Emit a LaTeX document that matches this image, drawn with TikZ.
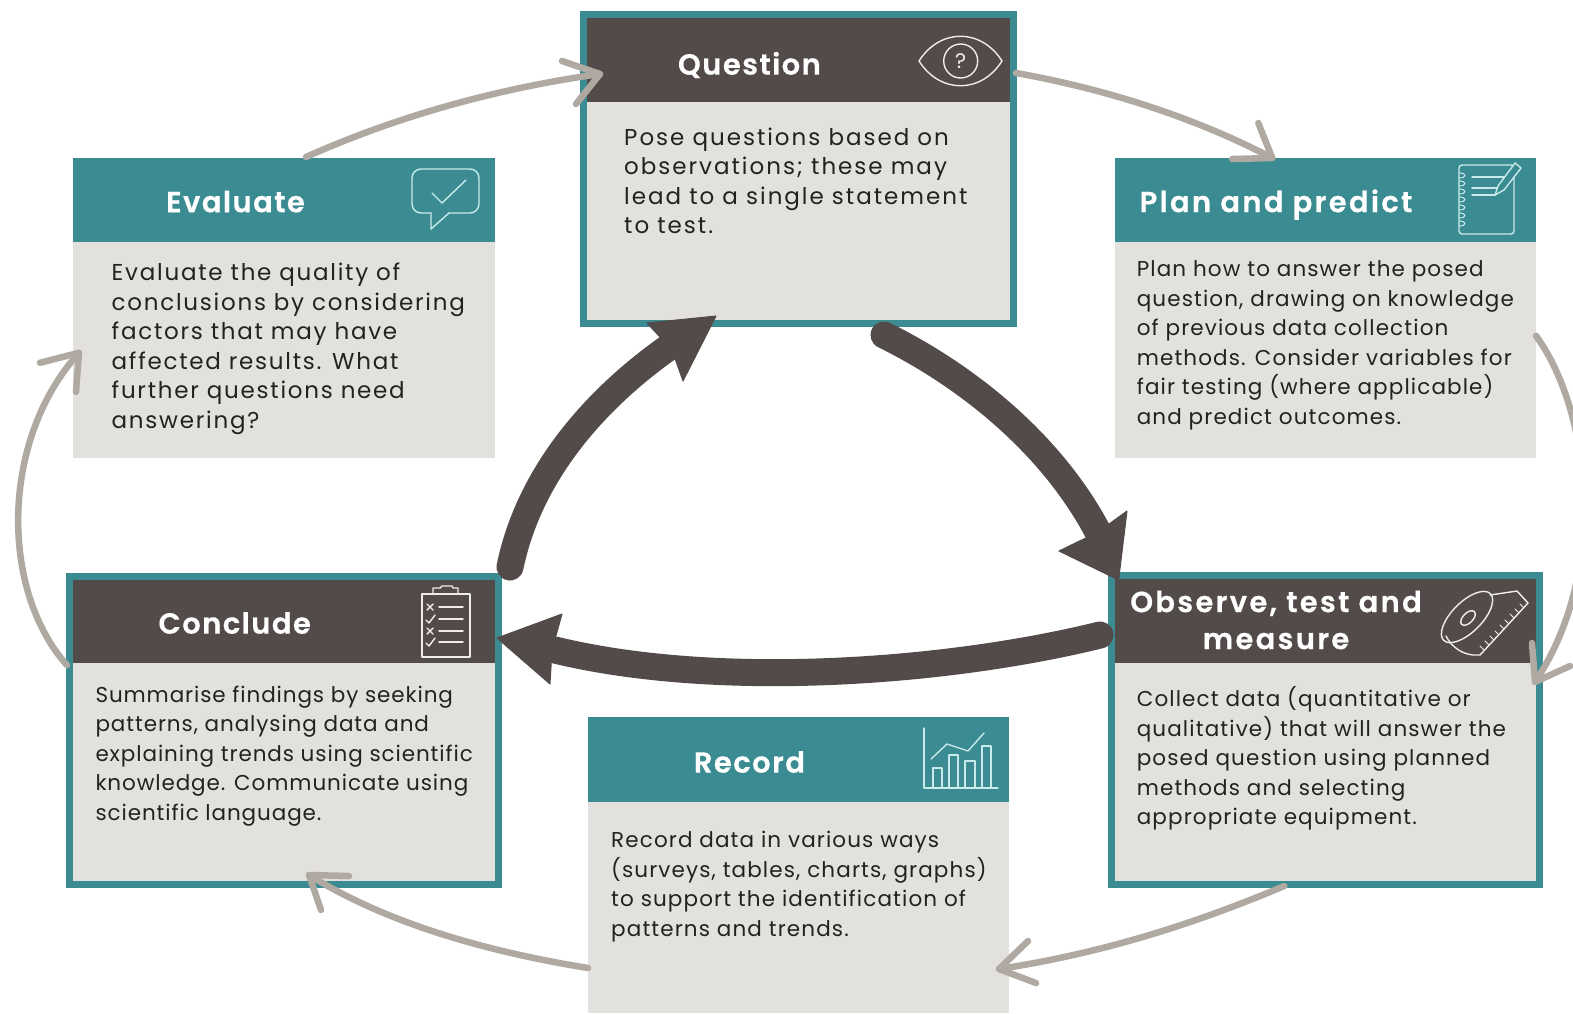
\documentclass[tikz,border=0pt]{standalone}
\usepackage{fontspec}
\setmainfont{Poppins}[LetterSpace=4.2]
\newfontfamily\fwide{Poppins}[LetterSpace=8.6]
\newfontfamily\fevl{Poppins}[LetterSpace=7.6]
\newfontfamily\fmid{Poppins}[LetterSpace=5.2]
\newfontfamily\ftitle{Poppins SemiBold}[LetterSpace=5,FakeBold=0.5]
\newfontfamily\ftitlew{Poppins SemiBold}[LetterSpace=8,FakeBold=0.5]
\usetikzlibrary{fit}
\definecolor{teal1}{HTML}{3A8C92}
\definecolor{dark1}{HTML}{534B49}
\definecolor{pale1}{HTML}{E3E1DD}
\definecolor{arrow1}{HTML}{AFA9A2}
\definecolor{ink1}{HTML}{222222}
\definecolor{icona}{HTML}{EFEDE8}
\definecolor{iconb}{HTML}{C9EAEA}
\tikzset{
 panel/.style={fill=pale1,inner sep=0pt,outer sep=0pt},
 framed/.style={panel,draw=teal1,line width=7pt},
 headteal/.style={fill=teal1,inner sep=0pt,outer sep=0pt},
 headdark/.style={fill=dark1,inner sep=0pt,outer sep=0pt},
 ttl/.style={text=white,font=\fontsize{29}{37}\selectfont\ftitle,align=center,inner sep=0pt},
 ttlw/.style={ttl,font=\fontsize{29}{37}\selectfont\ftitlew},
 bodytxt/.style={text=ink1,font=\fontsize{21.5}{29.5}\selectfont,align=left,anchor=north west,inner sep=0pt},
 bodywide/.style={bodytxt,font=\fontsize{23}{29.5}\selectfont\fwide},
 bodyevl/.style={bodytxt,font=\fontsize{23}{29.5}\selectfont\fevl},
 bodymid/.style={bodytxt,font=\fontsize{21.5}{29.5}\selectfont\fmid},
 thin1/.style={arrow1,line width=6.5pt,line cap=round,line join=round},
 thick1/.style={dark1,line width=27pt,line cap=round},
 headbig/.style={fill=dark1,draw=dark1,line width=1pt,line join=round},
 icd/.style={draw=icona,line width=1.4pt,line cap=round,line join=round},
 ict/.style={draw=iconb,line width=1.4pt,line cap=round,line join=round},
}
\newcommand{\fl}{\rule{0pt}{18pt}}
\begin{document}
\begin{tikzpicture}[x=1pt,y=-1pt]
\useasboundingbox (0,0) rectangle (1573,1013);
\fill[white] (0,0) rectangle (1573,1013);
% panels
\node[framed,fit={(583.5,14.5)(1013.5,323.5)}] (q) {};
\node[headdark,fit={(587,18)(1010,102)}] (qh) {};
\node[panel,fit={(73,157.5)(495,458)}] (ev) {};
\node[headteal,fit={(73,157.5)(495,242)}] (evh) {};
\node[panel,fit={(1114.5,157.5)(1536,458)}] (pl) {};
\node[headteal,fit={(1114.5,157.5)(1536,242)}] (plh) {};
\node[framed,fit={(69.5,576)(498.5,884.5)}] (co) {};
\node[headdark,fit={(73,579.5)(495,663)}] (coh) {};
\node[framed,fit={(1111,575.5)(1539.5,884.5)}] (ob) {};
\node[headdark,fit={(1114.5,579)(1536,663)}] (obh) {};
\node[panel,fit={(588,717)(1009,1013)}] (re) {};
\node[headteal,fit={(588,717)(1009,802)}] (reh) {};
% titles
\node[ttl] (qt) at (749.4,65) {Question};
\node[ttl] (evt) at (235.5,201.6) {Evaluate};
\node[ttlw] (plt) at (1276,204.6) {Plan and predict};
\node[ttl] (cot) at (234.7,623) {Conclude};
\node[ttl] (ret) at (749.4,762) {Record};
\node[ttlw] (obt) at (1276,620) {Observe, test and\\measure};
% body text
\node[bodywide] (qb) at (624,127) {\fl Pose questions based on\\observations; these may\\lead to a single statement\\to test.};
\node[bodyevl] (evb) at (111.5,262.5) {\fl Evaluate the quality of\\conclusions by considering\\factors that may have\\affected results. What\\further questions need\\answering?};
\node[bodymid] (plb) at (1136.6,258.5) {\fl Plan how to answer the posed\\question, drawing on knowledge\\of previous data collection\\methods. Consider variables for\\fair testing (where applicable)\\and predict outcomes.};
\node[bodytxt] (cob) at (95.3,683.8) {\fl Summarise findings by seeking\\patterns, analysing data and\\explaining trends using scientific\\knowledge. Communicate using\\scientific language.};
\node[bodymid] (obb) at (1136.6,686.3) {\fl Collect data (quantitative or\\qualitative) that will answer the\\posed question using planned\\methods and selecting\\appropriate equipment.};
\node[bodymid] (reb) at (611,829.3) {\fl Record data in various ways\\(surveys, tables, charts, graphs)\\to support the identification of\\patterns and trends.};
% icons: eye
\draw[icd] (919,61) .. controls (940,28) and (981,28) .. (1002,61) .. controls (981,94) and (940,94) .. (919,61) -- cycle;
\draw[icd] (960.7,61) circle (17);
\node[text=icona,font=\fontsize{21}{21}\selectfont,inner sep=0pt] (eyeq) at (960.7,61) {?};
% notebook
\draw[ict,rounded corners=3pt] (1459,165) rectangle (1514,234);
\foreach \yy in {173,181,189,197,205,213,221}
  \draw[ict,line width=1pt] (1459,\yy) .. controls (1467,\yy) and (1467,\yy+5) .. (1459,\yy+5);
\draw[ict] (1472,177) -- (1510,177) (1472,188) -- (1502,188) (1472,195) -- (1495,195);
\draw[ict,fill=teal1] (1495,195) -- (1498,186) -- (1515,163) -- (1521,168) -- (1504,190) -- cycle;
% speech bubble
\draw[ict,rounded corners=9pt] (431,213) -- (412,213) -- (412,169) -- (479,169) -- (479,213) -- (449,213);
\draw[ict] (431,213) -- (431,229) -- (449,213);
\draw[ict] (432,193) -- (442,203) -- (466,180);
% clipboard
\draw[icd] (422,594) rectangle (470,657);
\draw[icd] (433,594) -- (433,588) -- (440,588) -- (442,586) -- (452,586) -- (453,588) -- (458,588) -- (458,594);
\foreach \yy in {607,619,631,642} \draw[icd] (439,\yy) -- (463,\yy);
\foreach \yy in {607,631} \draw[icd] (427,\yy-3) -- (433,\yy+3) (433,\yy-3) -- (427,\yy+3);
\foreach \yy in {619,642} \draw[icd] (426,\yy+1) -- (429,\yy+4) -- (435,\yy-4);
% chart
\draw[ict] (924,728) -- (924,788) -- (998,788);
\draw[ict] (933,788) -- (933,768) -- (942,768) -- (942,788);
\draw[ict] (949,788) -- (949,755) -- (958,755) -- (958,788);
\draw[ict] (965,788) -- (965,761) -- (975,761) -- (975,788);
\draw[ict] (982,788) -- (982,746) -- (991,746) -- (991,788);
\draw[ict] (931,759) -- (947,744) -- (968,751) -- (984,733);
% tape
\draw[icd,rotate around={45:(1467,617)}] (1467,617) ellipse (33 and 15);
\draw[icd,rotate around={45:(1468,618)}] (1468,618) ellipse (9 and 5);
\draw[icd] (1490,595) -- (1517,591) -- (1528,603) -- (1480,655) -- (1473,655) .. controls (1463,654) and (1452,648) .. (1446,636);
\foreach \xx/\yy in {1484/650,1489/645,1494/640,1499/635,1504/629,1509/624,1514/618,1519/613,1524/608}
  \draw[icd,line width=1pt] (\xx,\yy) -- +(-4,-4);
% thin arrows
\coordinate (a1) at ([shift={(22,-.5)}]ev.north);
\coordinate (a2) at ([shift={(16.5,59.5)}]q.north west);
\coordinate (b1) at ([shift={(2.5,58.5)}]q.north east);
\coordinate (b2) at ([shift={(-53,.5)}]pl.north);
\coordinate (c1) at ([shift={(0,28)}]pl.east);
\coordinate (c2) at ([shift={(-4.5,-48)}]ob.east);
\coordinate (d1) at ([shift={(-41,1.5)}]ob.south);
\coordinate (d2) at ([shift={(-10,104)}]re.east);
\coordinate (e1) at ([shift={(0,103)}]re.west);
\coordinate (e2) at ([shift={(25,-9.5)}]co.south);
\coordinate (f1) at ([shift={(-2.5,-65)}]co.west);
\coordinate (f2) at ([shift={(6,45)}]ev.west);
\draw[thin1] (a1) .. controls (400,115) and (500,88) .. (a2);
\draw[thin1] (a2) ++(-38,-13) -- (a2) -- ++(-24,30);
\draw[thin1] (b1) .. controls (1100,88) and (1190,115) .. (b2);
\draw[thin1] (b2) ++(-14,-35) -- (b2) -- ++(-40,1);
\draw[thin1] (c1) .. controls (1590,410) and (1610,570) .. (c2);
\draw[thin1] (c2) ++(-3,-39) -- (c2) -- ++(35,-16);
\draw[thin1] (d1) .. controls (1180,930) and (1090,955) .. (d2);
\draw[thin1] (d2) ++(29,-28) -- (d2) -- ++(37,14);
\draw[thin1] (e1) .. controls (490,952) and (390,925) .. (e2);
\draw[thin1] (e2) ++(40,1) -- (e2) -- ++(12,35);
\draw[thin1] (f1) .. controls (0,590) and (0,440) .. (f2);
\draw[thin1] (f2) ++(-39,10) -- (f2) -- ++(-3,39);
% thick arrows
\coordinate (g1) at ([shift={(11.5,-9)}]co.north east);
\coordinate (g2) at ([shift={(88.5,21.5)}]q.south west);
\coordinate (g3) at ([shift={(132.5,-7.5)}]q.south west);
\coordinate (h1) at ([shift={(85.5,11.5)}]q.south);
\coordinate (h2) at ([shift={(-13,-43.5)}]ob.north west);
\coordinate (h3) at ([shift={(7.6,4.5)}]ob.north west);
\coordinate (k1) at ([shift={(-11,59.5)}]ob.north west);
\coordinate (k2) at ([shift={(56.5,74)}]co.north east);
\coordinate (k3) at ([shift={(-1.5,62)}]co.north east);
\draw[thick1] (g1) .. controls (530,470) and (600,395) .. (g2);
\draw[headbig] (g3) -- ++(-69,7) -- ++(25,27) -- ++(11,31) -- cycle;
\draw[thick1] (h1) .. controls (975,380) and (1055,450) .. (h2);
\draw[headbig] (h3) -- ++(8.4,-69) -- ++(-29,21) -- ++(-39,19) -- cycle;
\draw[thick1] (k1) .. controls (950,672) and (720,690) .. (k2);
\draw[headbig] (k3) -- ++(65,-24) -- ++(-10,36) -- ++(-2,34) -- cycle;
\end{tikzpicture}
\end{document}
